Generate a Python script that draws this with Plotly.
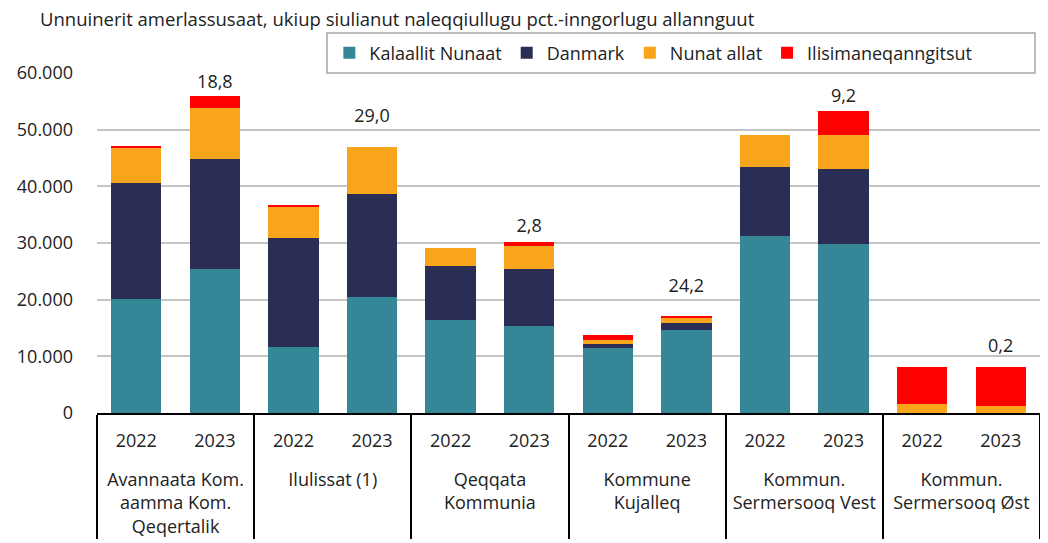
import plotly.graph_objects as go

groups = ["Avannaata Kom.<br>aamma Kom.<br>Qeqertalik", "Ilulissat (1)", "Qeqqata<br>Kommunia",
          "Kommune<br>Kujalleq", "Kommun.<br>Sermersooq Vest", "Kommun.<br>Sermersooq Øst"]
years = ["2022", "2023"]

kalaallit = [20100, 25500, 11700, 20500, 16500, 15400, 11500, 14600, 31200, 29800, 0, 0]
danmark = [20500, 19300, 19100, 18100, 9500, 10100, 600, 1200, 12200, 13200, 0, 0]
nunat = [6300, 9000, 5700, 8400, 3200, 3900, 800, 900, 5700, 6100, 1600, 1300]
ilisimaneq = [200, 2100, 100, 0, 0, 700, 900, 500, 0, 4200, 6500, 6800]

pct_labels = ["", "18,8", "", "29,0", "", "2,8", "", "24,2", "", "9,2", "", "0,2"]
pct_label_y = [None, 58200, None, 52100, None, 32800, None, 22100, None, 55600, None, 11500]

x_outer = ["<br>" + g for g in groups for _ in years]
x_inner = [y for _ in groups for y in years]
x = [x_outer, x_inner]

series = [
    ("Kalaallit Nunaat", kalaallit, "#358797"),
    ("Danmark", danmark, "#2A2E55"),
    ("Nunat allat", nunat, "#F9A51C"),
    ("Ilisimaneqanngitsut", ilisimaneq, "#FF0000"),
]

fig = go.Figure()
for name, vals, col in series:
    fig.add_trace(go.Bar(x=x, y=vals, name=name, marker=dict(color=col, line=dict(width=0))))

fig.add_trace(go.Scatter(x=x, y=pct_label_y, mode="text", text=pct_labels,
                         textposition="middle center", showlegend=False,
                         textfont=dict(size=18, color="#222222"), hoverinfo="skip"))

# page body has an 8px margin, so the figure is drawn 8px right/down of the window origin
fig.update_layout(
    barmode="stack",
    bargap=0.36,
    width=1040, height=535,
    margin=dict(l=89, r=8, t=65, b=130, autoexpand=False),
    paper_bgcolor="white", plot_bgcolor="white",
    separators=",.",
    font=dict(family="Open Sans, Liberation Sans", size=18, color="#222222"),
    title=dict(text="Unnuinerit amerlassusaat, ukiup siulianut naleqqiullugu pct.-inngorlugu allannguut",
               xref="container", yref="container", x=0.0308, y=0.978,
               xanchor="left", yanchor="middle", font=dict(size=18.5, color="#222222")),
    legend=dict(orientation="h", x=0.2464, y=1.059, xanchor="left", yanchor="middle",
                borderwidth=0, bgcolor="rgba(0,0,0,0)", font=dict(size=18),
                traceorder="normal", itemwidth=30),
    shapes=[dict(type="rect", xref="paper", yref="paper", x0=0.2439, x1=0.9947, y0=1.0, y1=1.1176,
                 line=dict(color="#A6A6A6", width=1.5), fillcolor="white", layer="below")],
)
fig.update_yaxes(range=[0, 60000], dtick=10000, tickformat=",d", showgrid=True,
                 gridcolor="#C4C4C4", gridwidth=2, zeroline=False, showline=False,
                 tickfont=dict(size=18), ticks="", ticklabelstandoff=23, automargin=False)
fig.update_xaxes(range=[-0.5, len(x_inner) - 0.5], showline=True, linecolor="black", linewidth=2,
                 showdividers=True, dividercolor="black", dividerwidth=2, tickfont=dict(size=18),
                 ticks="", ticklabelstandoff=10, automargin=False)

fig.write_html("out.html")
